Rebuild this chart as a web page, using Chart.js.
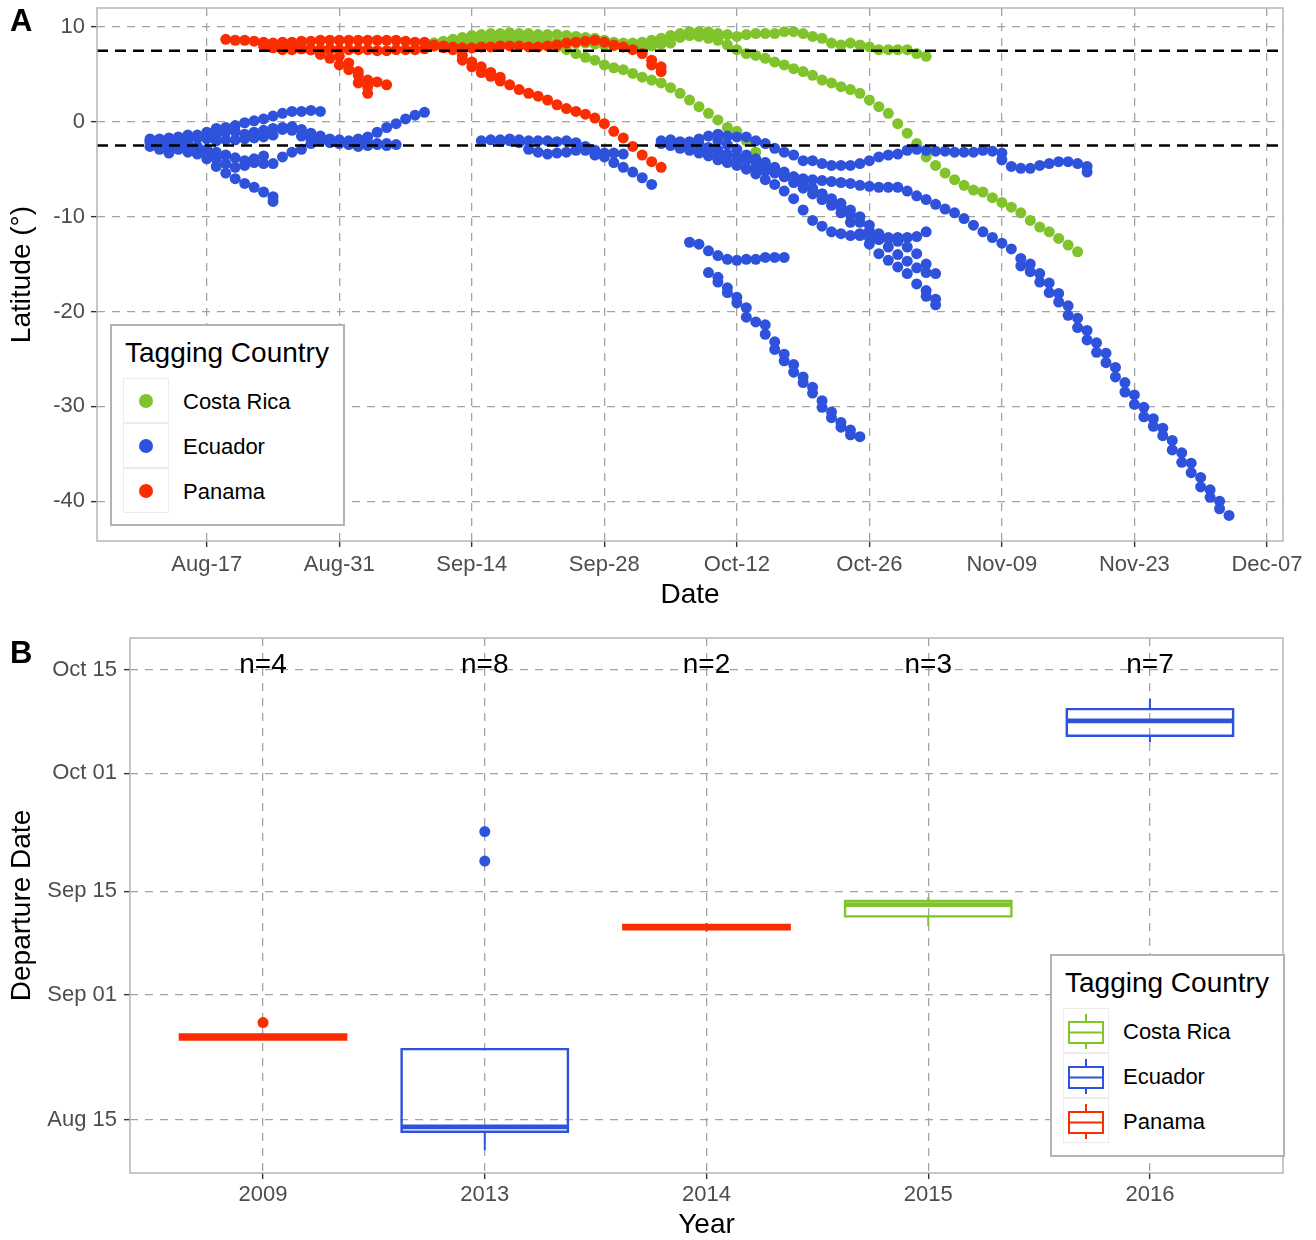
<!DOCTYPE html>
<html>
<head>
<meta charset="utf-8">
<script src="https://cdn.jsdelivr.net/npm/chart.js@4.4.0/dist/chart.umd.min.js"></script>
<style>
  body { margin: 0; background: #fff; font-family: "Liberation Sans", Arial, Helvetica, sans-serif; }
  #page { position: relative; width: 1316px; height: 1240px; overflow: hidden; }
  .panel { position: absolute; left: 0; width: 1316px; height: 620px; }
  .tag { position: absolute; left: 10px; font-weight: bold; font-size: 31px; line-height: 31px; }
  .legend { position: absolute; border: 2px solid #b3b3b3; background: #fff; box-sizing: border-box; }
  .legend .title { position: absolute; left: 13px; top: 13px; font-size: 28px; line-height: 28px; white-space: nowrap; }
  .legend .key { position: absolute; left: 11px; width: 46px; height: 45px; border: 1px solid #ececec; box-sizing: border-box; }
  .legend .dot { position: absolute; left: 15px; top: 15px; width: 14px; height: 14px; border-radius: 50%; }
  .legend .label { position: absolute; left: 71px; font-size: 22px; line-height: 22px; white-space: nowrap; }
</style>
</head>
<body>
<div id="page">
  <div class="panel" style="top:0"><canvas id="chartA"></canvas></div>
  <div class="panel" style="top:620px"><canvas id="chartB"></canvas></div>
  <div class="tag" style="top:5px">A</div>
  <div class="tag" style="top:637px">B</div>
  <div class="legend" id="legendA" style="left:110px;top:324px;width:235px;height:202px"></div>
  <div class="legend" id="legendB" style="left:1050px;top:954px;width:235px;height:203px"></div>
</div>
<script>
// days are counted from Aug 1 (= 0)
const countries = ['Costa Rica', 'Ecuador', 'Panama'];
const countryColors = ['#80c32a', '#2f52dc', '#fa2d00'];

// panel A axes
const dayMinA = 4.4, dayMaxA = 129.7;
const dateTickDays = [16, 30, 44, 58, 72, 86, 100, 114, 128];
const dateTickLabels = ['Aug-17', 'Aug-31', 'Sep-14', 'Sep-28', 'Oct-12', 'Oct-26', 'Nov-09', 'Nov-23', 'Dec-07'];
const latTicks = [-40, -30, -20, -10, 0, 10];
const refLats = [7.5, -2.5];

// tracks: first day + one latitude per day (a pair = two fixes that day)
const costaRicaTracks = [
  { start: 40, lats: [8.3, 8.4, 8.6, 8.8, 8.9, 9.0, 9.0, 8.9, 8.8, 8.8, 8.6, 8.4, 8.2, 7.9, 7.6, 7.2, 6.8, 6.5, 6.0, 5.7,
    5.5, 5.1, 4.7, 4.4, 4.1, 3.6, 3.0, 2.3, 1.6, 0.9, 0.2, -0.6, -1.0, -2.0, -3.2, -4.3, -5.3] },
  { start: 40, lats: [8.3, 8.5, 8.7, 8.9, 9.1, 9.2, 9.3, 9.3, 9.4, 9.3, 9.3, 9.2, 9.2, 9.2, 9.1, 9.0, 8.9, 8.8, 8.6, 8.4,
    8.3, 8.3, 8.4, 8.6, 8.8, 9.1, 9.3, 9.5, 9.5, 9.5, 9.3, 9.2, 9.0, 9.2, 9.3, 9.3, 9.3, 9.5, 9.5, 9.3,
    9.0, 8.8, 8.3, 8.1, 8.3, 8.1, 7.9, 7.6, 7.6, 7.6, 7.6, 7.2, 6.9] },
  { start: 40, lats: [8.0, 8.1, 8.2, 8.3, 8.4, 8.5, 8.5, 8.5, 8.6, 8.6, 8.5, 8.5, 8.5, 8.4, 8.4, 8.3, 8.3, 8.2, 8.1, 8.0,
    7.9, 7.9, 7.9, 8.0, 8.2, 8.3, 8.9, 9.1, 9.0, 8.8, 8.6, 8.1, 7.6, 7.2, 7.0, 6.7, 6.3, 6.0, 5.6, 5.3,
    4.9, 4.4, 4.1, 3.7, 3.4, 3.0, 2.3, 1.6, 0.9, -0.2, -1.2, -2.3, -3.7, -4.6, -5.4, -6.1, -6.7, -7.2, -7.4, -8.0,
    -8.5, -9.0, -9.6, -10.4, -11.1, -11.6, -12.3, -13.0, -13.7] }
];

const ecuadorTracks = [
  { start: 10, lats: [-1.8, -1.8, -1.7, -1.6, -1.4, -1.4, -1.1, -0.7, -0.6, -0.4, -0.1, 0.1, 0.3, 0.6, 0.9, 1.1, 1.1, 1.2, 1.1] },
  { start: 10, lats: [-2.2, -2.5, -2.3, -2.2, -2.0, -1.6, -1.8, -2.0, -1.9, -1.9, -1.8, -1.7, -1.6, -1.4, -0.8, -0.5, -0.8, -1.2, -1.5, -1.8,
    -1.9, -2.0, -1.8, -1.6, -1.1, -0.6, -0.2, 0.3, 0.7, 1.0] },
  { start: 10, lats: [-2.6, -2.9, -3.3, -2.8, -2.9, -3.1, -3.4, -3.9, -4.4, -4.8, -4.6, -4.3, -4.4, -4.4, -3.7, -3.2, -2.9, -2.3, -1.7, -1.9,
    -2.0, -2.4, -2.6, -2.5, -2.4, -2.5, -2.4] },
  { start: 10, lats: [-2.0, -2.3, -2.6, -2.9, -3.2, -3.4, -3.9, -4.7, -5.4, -6.0, -6.5, -6.9, -7.4, [-7.9, -8.4]] },
  { start: 11, lats: [-1.9, -2.1, -2.2, -2.4, -2.6, -2.9, -3.2, -3.5, -3.8, -4.1, -3.9, -3.6] },
  { start: 11, lats: [-2.4, -2.2, -2.0, -1.9, -1.7, -1.5, -1.3, -1.1, -1.0, -1.3, -1.1, -0.9, -0.7, -0.6, -0.9, -1.5, -1.8, -2.0, -2.2, -2.3,
    -2.2, -2.3, -2.2, -2.3, -2.3] },
  { start: 45, lats: [-2.0, -1.9, -1.9, -1.8, -1.9, -2.0, -2.0, -2.0, -2.1, -2.0, -2.2, -3.0, -3.5, -3.7, -4.3, -4.8, -5.3, -5.9, -6.6] },
  { start: 47, lats: [-2.1, -2.0, -2.2, -2.9, -3.2, -3.4, -3.3, -3.2, -3.0, -2.6, -3.0, -3.3, -3.3, -3.4] },
  { start: 64, lats: [-2.0, -1.9, -2.1, -2.1, -1.8, -1.5, -1.3, -1.5, -1.6, -1.6, -2.0, -2.3, -2.8, -3.2, -3.5, -4.1, -4.1, -4.4, -4.6, -4.6,
    -4.6, -4.4, -4.1, -3.7, -3.5, -3.4, -3.0, -2.9, -3.0, -3.1, -3.1, -3.2, -3.2, -3.2, -3.0, -3.1, [-3.3, -4.0], -4.7, -4.9, -4.9,
    -4.6, -4.4, -4.2, -4.2, -4.4, [-4.7, -5.3]] },
  { start: 64, lats: [-2.3, -2.5, -2.8, -3.0, -3.3, -3.6, -4.0, -4.3, -4.6, -4.9, -5.0, -5.2, -5.4, -5.6, -5.8, -6.0, -6.1, -6.2, -6.3, -6.4,
    -6.5, -6.7, -6.8, -6.9, -6.9, -6.9, -7.3, -7.8, -8.2, -8.7, -9.2, -9.6, -10.2, -10.9, -11.6, -12.2, -12.8, -13.4,
    [-14.4, -15.2], [-15.0, -15.8], [-16.0, -16.9], [-17.0, -18.0], [-18.1, -19.0], [-19.4, -20.4], [-20.7, -21.7], [-22.0, -23.0],
    [-23.3, -24.3], [-24.4, -25.4], [-25.9, -26.9], [-27.5, -28.5], [-28.8, -29.8], [-30.1, -31.1], [-31.3, -32.1], [-32.3, -33.1],
    [-33.6, -34.6], [-34.9, -35.9], [-36.0, -37.0], [-37.5, -38.5], [-38.8, -39.6], [-40.0, -40.8], -41.5] },
  { start: 67, lats: [-12.7, -12.9, -13.6, -14.1, -14.5, -14.6, -14.5, -14.5, -14.3, -14.3, -14.3] },
  { start: 69, lats: [-15.9, [-16.4, -16.9], [-17.5, -18.0], [-18.5, -19.1], [-19.6, -20.6], -21.1, [-21.4, -22.4], [-23.2, -24.0],
    [-24.5, -25.2], [-25.6, -26.4], [-26.9, -27.5], [-28.0, -28.6], [-29.4, -30.1], [-30.6, -31.2], [-31.7, -32.2], [-32.5, -33.0], -33.2] },
  { start: 66, lats: [-2.2, -2.6, -3.1, -3.4, -3.8, -4.2, -4.5, -5.0, -5.5, -6.1, -6.6, -7.3, -8.1, -9.3, -10.4, -11.0, -11.6, -11.8, -12.0, -12.0,
    -12.2, -12.4, -12.2, -12.2, -12.2, -12.1, -11.6] },
  { start: 68, lats: [-2.3, -2.7, -3.0, -3.4, -3.7, -4.0, -4.3, -4.7, -5.2, -5.6, -6.1, -6.6, -7.1, -7.6, -8.1, -8.6, -9.3, -10.0, -10.9, -11.8,
    -12.3, -12.6, -13.2, -13.9, -15.0, -16.0] },
  { start: 70, lats: [-2.0, -2.4, -2.9, -3.5, -4.0, -4.6, -5.2, -5.8, -6.4, -7.0, -7.6, -8.2, -8.8, -9.6, -10.6, -11.8, -12.9, -13.9, -14.6, -15.3,
    -16.0, -17.1, [-17.8, -18.4], [-18.7, -19.3]] },
  { start: 74, lats: [-3.9, -4.3, -4.8, -5.3, -5.8, -6.4, -7.0, -7.6, -8.3, -9.0, -9.8, -10.6, -11.5, -12.4, -13.2, -14.0, -14.7, -15.4, -15.9] }
];

const panamaTracks = [
  { start: 18, lats: [8.7, 8.6, 8.6, 8.5, 8.4, 8.3, 8.4, 8.4, 8.5, 8.5, 8.6, 8.6, 8.6, 8.6, 8.6, 8.6, 8.6, 8.6, 8.6, 8.5, 8.4, 8.4] },
  { start: 22, lats: [8.0, 7.8, 7.6, 7.6, 7.9, 7.6, 7.1, 6.7, 6.0, 5.5, 4.9, 4.4, 4.2, 3.9] },
  { start: 23, lats: [8.2, 8.0, 7.8, 7.7, 7.6, 7.6, 7.6, 6.9, 6.2, [5.3, 4.1], [3.7, 3.0]] },
  { start: 22, lats: [8.3, 8.1, 7.9, 7.8, 7.7, 7.6, 7.6, 7.7, 7.6, 7.6, 7.6, 7.6, 7.5, 7.5, 7.6, 7.6, 7.6, 7.7] },
  { start: 40, lats: [8.0, 7.8, 7.6, [7.0, 6.5], [6.3, 5.8], [5.8, 5.2], [5.2, 4.8], [4.7, 4.3], 3.9, 3.4, 3.0, 2.7, 2.3, 1.8, 1.4, 1.1, 0.8, 0.4,
    -0.2, -1.0, -1.7, -2.6, -3.5, -4.2, -4.8] },
  { start: 40, lats: [8.1, 8.0, 7.9, 7.8, 7.8, 7.9, 7.9, 8.0, 8.0, 8.0, 7.9, 7.9, 8.0, 8.1, 8.3, 8.4, 8.5, 8.6, 8.4, 8.1,
    7.9, 7.6, 7.2, [6.5, 6.0], [5.8, 5.3]] }
];

// panel B: departure dates per year
const dayMinB = 6.8, dayMaxB = 79.35;
const boxTickDays = [14, 31, 45, 61, 75];
const boxTickLabels = ['Aug 15', 'Sep 01', 'Sep 15', 'Oct 01', 'Oct 15'];
const boxYears = ['2009', '2013', '2014', '2015', '2016'];
const boxCountry = ['Panama', 'Ecuador', 'Panama', 'Costa Rica', 'Ecuador'];
const whiskerLow = [24.9, 9.9, 39.5, 40.3, 65.2];
const boxQ1 = [24.9, 12.4, 39.85, 41.6, 66.1];
const boxMedian = [25.3, 13.05, 40.15, 43.2, 68.1];
const boxQ3 = [25.6, 23.6, 40.45, 43.7, 69.7];
const whiskerHigh = [25.6, 23.6, 40.7, 44.2, 71.1];
const outlierYears = ['2009', '2013', '2013'];
const outlierDays = [27.2, 49.1, 53.1];
const nLabels = ['n=4', 'n=8', 'n=2', 'n=3', 'n=7'];
const nLabelDay = 75.7;

Chart.defaults.font.family = '"Liberation Sans", Arial, Helvetica, sans-serif';

const tickColor = '#4d4d4d';
const gridColor = '#a3a3a3';

function trackPoints(track) {
  const pts = [];
  track.lats.forEach((v, i) => {
    [].concat(v).forEach(lat => pts.push({ x: track.start + i, y: lat }));
  });
  return pts;
}

const panelBorder = {
  id: 'panelBorder',
  afterDraw(chart) {
    const a = chart.chartArea, ctx = chart.ctx;
    ctx.save();
    ctx.strokeStyle = '#b5b5b5';
    ctx.lineWidth = 1.5;
    ctx.strokeRect(a.left, a.top, a.right - a.left, a.bottom - a.top);
    ctx.restore();
  }
};

function axisOpts(extra) {
  return Object.assign({
    type: 'linear',
    grid: { color: gridColor, lineWidth: 1.3, tickLength: 6, tickColor: '#333', tickWidth: 1.4 },
    border: { display: false, dash: [8, 7] },
  }, extra);
}

// fixed axis sizes so the panels line up with the original figure
function fixHeight(h) {
  return s => { s.height = h; s.paddingLeft = 0; s.paddingRight = 0; };
}
function fixWidth(w) {
  return s => { s.width = w; s.paddingTop = 0; s.paddingBottom = 0; };
}

// ---------- panel A ----------
const datasetsA = [];
[costaRicaTracks, ecuadorTracks, panamaTracks].forEach((tracks, c) => {
  tracks.forEach(tr => {
    datasetsA.push({
      data: trackPoints(tr),
      backgroundColor: countryColors[c],
      borderWidth: 0,
      pointRadius: 5.5,
      order: 2 - c
    });
  });
});
refLats.forEach(lat => {
  datasetsA.push({
    type: 'line',
    data: [{ x: dayMinA, y: lat }, { x: dayMaxA, y: lat }],
    borderColor: '#000',
    borderWidth: 2.5,
    borderDash: [11, 7],
    pointRadius: 0,
    order: -1
  });
});

new Chart(document.getElementById('chartA'), {
  type: 'scatter',
  data: { datasets: datasetsA },
  options: {
    responsive: true,
    maintainAspectRatio: false,
    animation: false,
    events: [],
    layout: { padding: { top: 8, right: 33, left: 0, bottom: 0 } },
    plugins: { legend: { display: false }, tooltip: { enabled: false } },
    scales: {
      x: axisOpts({
        min: dayMinA, max: dayMaxA,
        afterBuildTicks: s => { s.ticks = dateTickDays.map(v => ({ value: v })); },
        afterFit: fixHeight(79),
        ticks: { callback: (v, i) => dateTickLabels[i], color: tickColor, font: { size: 22 }, padding: 5, maxRotation: 0, autoSkip: false },
        title: { display: true, text: 'Date', color: '#000', font: { size: 28, lineHeight: 1 }, padding: { top: 0, bottom: 11 } }
      }),
      y: axisOpts({
        min: -44.2, max: 12.0,
        afterBuildTicks: s => { s.ticks = latTicks.map(v => ({ value: v })); },
        afterFit: fixWidth(97),
        ticks: { callback: v => String(v), color: tickColor, font: { size: 22 }, padding: 6 },
        title: { display: true, text: 'Latitude (°)', color: '#000', font: { size: 28, lineHeight: 1 }, padding: { top: 8, bottom: 0 } }
      })
    }
  },
  plugins: [panelBorder]
});

// ---------- panel B ----------
const boxHalf = 0.375;
const datasetsB = [];
boxYears.forEach((yr, i) => {
  const xc = i + 1;
  const col = countryColors[countries.indexOf(boxCountry[i])];
  datasetsB.push({
    type: 'line',
    data: [{ x: xc, y: whiskerLow[i] }, { x: xc, y: boxQ1[i] }, { x: xc, y: null }, { x: xc, y: boxQ3[i] }, { x: xc, y: whiskerHigh[i] }],
    borderColor: col, borderWidth: 2, pointRadius: 0, spanGaps: false
  });
  datasetsB.push({
    type: 'line',
    data: [{ x: xc - boxHalf, y: boxQ1[i] }, { x: xc + boxHalf, y: boxQ1[i] }, { x: xc + boxHalf, y: boxQ3[i] },
           { x: xc - boxHalf, y: boxQ3[i] }, { x: xc - boxHalf, y: boxQ1[i] }],
    borderColor: col, borderWidth: 2.4, pointRadius: 0, borderJoinStyle: 'miter', borderCapStyle: 'square'
  });
  datasetsB.push({
    type: 'line',
    data: [{ x: xc - boxHalf, y: boxMedian[i] }, { x: xc + boxHalf, y: boxMedian[i] }],
    borderColor: col, borderWidth: 4.8, pointRadius: 0, borderCapStyle: 'butt'
  });
});
datasetsB.push({
  data: outlierYears.map((yr, k) => ({ x: boxYears.indexOf(yr) + 1, y: outlierDays[k] })),
  backgroundColor: outlierYears.map(yr => countryColors[countries.indexOf(boxCountry[boxYears.indexOf(yr)])]),
  borderWidth: 0,
  pointRadius: 5.5
});

const nLabelPlugin = {
  id: 'nLabels',
  afterDatasetsDraw(chart) {
    const { ctx, scales: { x, y } } = chart;
    ctx.save();
    ctx.font = '28px "Liberation Sans", Arial, sans-serif';
    ctx.fillStyle = '#000';
    ctx.textAlign = 'center';
    ctx.textBaseline = 'middle';
    nLabels.forEach((t, i) => ctx.fillText(t, x.getPixelForValue(i + 1), y.getPixelForValue(nLabelDay)));
    ctx.restore();
  }
};

new Chart(document.getElementById('chartB'), {
  type: 'scatter',
  data: { datasets: datasetsB },
  options: {
    responsive: true,
    maintainAspectRatio: false,
    animation: false,
    events: [],
    layout: { padding: { top: 18, right: 33, left: 0, bottom: 0 } },
    plugins: { legend: { display: false }, tooltip: { enabled: false } },
    scales: {
      x: axisOpts({
        min: 0.4, max: 5.6,
        afterBuildTicks: s => { s.ticks = boxYears.map((yr, i) => ({ value: i + 1 })); },
        afterFit: fixHeight(67),
        ticks: { callback: (v, i) => boxYears[i], color: tickColor, font: { size: 22 }, padding: 3, maxRotation: 0, autoSkip: false },
        title: { display: true, text: 'Year', color: '#000', font: { size: 28, lineHeight: 1 }, padding: { top: 0, bottom: 1 } }
      }),
      y: axisOpts({
        min: dayMinB, max: dayMaxB,
        afterBuildTicks: s => { s.ticks = boxTickDays.map(v => ({ value: v })); },
        afterFit: fixWidth(130),
        ticks: { callback: (v, i) => boxTickLabels[i], color: tickColor, font: { size: 22 }, padding: 7 },
        title: { display: true, text: 'Departure Date', color: '#000', font: { size: 28, lineHeight: 1 }, padding: { top: 8, bottom: 0 } }
      })
    }
  },
  plugins: [panelBorder, nLabelPlugin]
});

// ---------- legends ----------
function buildLegend(el, glyph) {
  const t = document.createElement('div');
  t.className = 'title';
  t.textContent = 'Tagging Country';
  el.appendChild(t);
  countries.forEach((name, i) => {
    const key = document.createElement('div');
    key.className = 'key';
    key.style.top = (52 + i * 45) + 'px';
    key.innerHTML = glyph(countryColors[i]);
    el.appendChild(key);
    const lab = document.createElement('div');
    lab.className = 'label';
    lab.style.top = (65 + i * 45) + 'px';
    lab.textContent = name;
    el.appendChild(lab);
  });
}
buildLegend(document.getElementById('legendA'), col => '<div class="dot" style="background:' + col + '"></div>');
buildLegend(document.getElementById('legendB'), col =>
  '<svg width="44" height="43" style="position:absolute;left:0;top:0">' +
  '<line x1="22" y1="5" x2="22" y2="13" stroke="' + col + '" stroke-width="2"/>' +
  '<rect x="5" y="13" width="34" height="21" fill="#fff" stroke="' + col + '" stroke-width="2"/>' +
  '<line x1="5" y1="23.5" x2="39" y2="23.5" stroke="' + col + '" stroke-width="2"/>' +
  '<line x1="22" y1="34" x2="22" y2="40" stroke="' + col + '" stroke-width="2"/></svg>');
</script>
</body>
</html>
